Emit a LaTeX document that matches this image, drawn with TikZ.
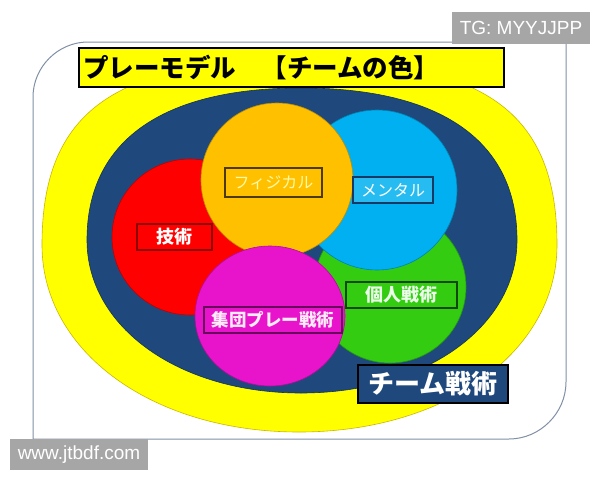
\documentclass[tikz,border=0pt]{standalone}
\usepackage{fontspec}
\setmainfont{Liberation Sans}
\newfontfamily\jpfont{Noto Sans CJK JP}
\usetikzlibrary{calc}

\definecolor{ringyellow}{HTML}{FFFF00}
\definecolor{ringedge}{HTML}{C9B800}
\definecolor{teamblue}{HTML}{1F497D}
\definecolor{techred}{HTML}{FF0000}
\definecolor{physgold}{HTML}{FFC000}
\definecolor{mentsky}{HTML}{00B0F0}
\definecolor{indgreen}{HTML}{33CC11}
\definecolor{grppink}{HTML}{E814CC}
\definecolor{wmgray}{HTML}{A6A6A6}
\definecolor{framegray}{HTML}{7F8FA6}

% closed blob: centre x, centre y, left, right, top, bottom, k top, k bottom
\providecommand\blobpath[8]{%
    (#1-#3,#2) .. controls (#1-#3,#2-#7*#5) and (#1-#7*#3,#2-#5) .. (#1,#2-#5)
    .. controls (#1+#7*#4,#2-#5) and (#1+#4,#2-#7*#5) .. (#1+#4,#2)
    .. controls (#1+#4,#2+#8*#6) and (#1+#8*#4,#2+#6) .. (#1,#2+#6)
    .. controls (#1-#8*#3,#2+#6) and (#1-#3,#2+#8*#6) .. (#1-#3,#2) -- cycle}
\providecommand*{\pgfmathsetnewmacro}[2]{%
    \newcommand*{#1}{}%
    \pgfmathsetmacro{#1}{#2}%
}

\begin{document}
\begin{tikzpicture}[%
        x = 1pt,
        y = -1pt,
        line width = 0.8pt,
        tag/.style = {draw, line width = 1.3pt, inner sep = 0pt,
            minimum height = 26, text = white,
            font = \jpfont\bfseries\fontsize{18}{18}\selectfont},
        wmbox/.style = {fill = wmgray, inner sep = 0pt, minimum width = 138,
            minimum height = 32, text = white,
            font = \fontsize{19}{19}\selectfont},
        ]

\useasboundingbox (0,0) rectangle (600,480);

\pgfmathsetnewmacro{\ringx}{299}
\pgfmathsetnewmacro{\ringy}{245}

% frame
\draw[framegray, line width = 1pt] (33,439) -- (33,97)
    .. controls (33,67) and (58,42) .. (88,42) -- (566,42) -- (566,382)
    .. controls (566,413) and (540,439) .. (509,439) -- cycle;

\filldraw[fill = ringyellow, draw = ringedge, line width = 0.6pt]
    \blobpath{\ringx}{\ringy}{257}{258}{185}{187}{0.72}{0.57};
\filldraw[fill = teamblue, draw = teamblue!70!black, line width = 0.6pt]
    \blobpath{\ringx+2}{\ringy-5}{214}{216}{152}{153}{0.65}{0.57};

\foreach \X/\Y/\RX/\RY/\COL in {190/237/78/78/techred, 390/287/76/76/indgreen,
        377/190/80/80/mentsky, 277/180/76/77/physgold, 270/316/75/70/grppink}{%
    \filldraw[fill = \COL, draw = \COL!75!black, line width = 0.6pt]
        (\X,\Y) ellipse [x radius = \RX, y radius = \RY];
    }

\node (tech) [tag, fill = techred, draw = techred!55!black, minimum width = 75]
    at (174.5,237) {技術};
\node (phys) [tag, fill = physgold, draw = physgold!30!black, minimum width = 97,
    minimum height = 29, text = yellow!35!white,
    font = \jpfont\fontsize{16}{16}\selectfont] at (273.5,182.5) {フィジカル};
\node (ment) [tag, fill = mentsky!85!white, draw = teamblue!80!black,
    minimum width = 80, font = \jpfont\fontsize{16}{16}\selectfont]
    at (393,190) {メンタル};
\node (indiv) [tag, fill = indgreen, draw = indgreen!35!black, minimum width = 111,
    text = green!8!white] at (401.5,295) {個人戦術};
\node (group) [tag, fill = grppink, draw = grppink!45!black, minimum width = 138,
    text = magenta!8!white, font = \jpfont\bfseries\fontsize{17.5}{17.5}\selectfont]
    at (273,320) {集団プレー戦術};
\node (team) [tag, fill = teamblue, draw = black, line width = 1.8pt,
    minimum width = 150, minimum height = 38,
    font = \jpfont\bfseries\fontsize{26}{26}\selectfont] at (433,384) {チーム戦術};

\node (title) [draw, fill = ringyellow, line width = 1.3pt, inner xsep = 4,
    inner ysep = 0pt, text width = 417, minimum height = 39, align = left,
    font = \jpfont\bfseries\fontsize{25.5}{25.5}\selectfont] at (291.5,67.5)
    {プレーモデル　【チームの色】};

\node (tg) [wmbox] at (521,28) {TG: MYYJJPP};
\node (www) [wmbox, minimum height = 31] at (79,454.5) {www.jtbdf.com};

\end{tikzpicture}
\end{document}
